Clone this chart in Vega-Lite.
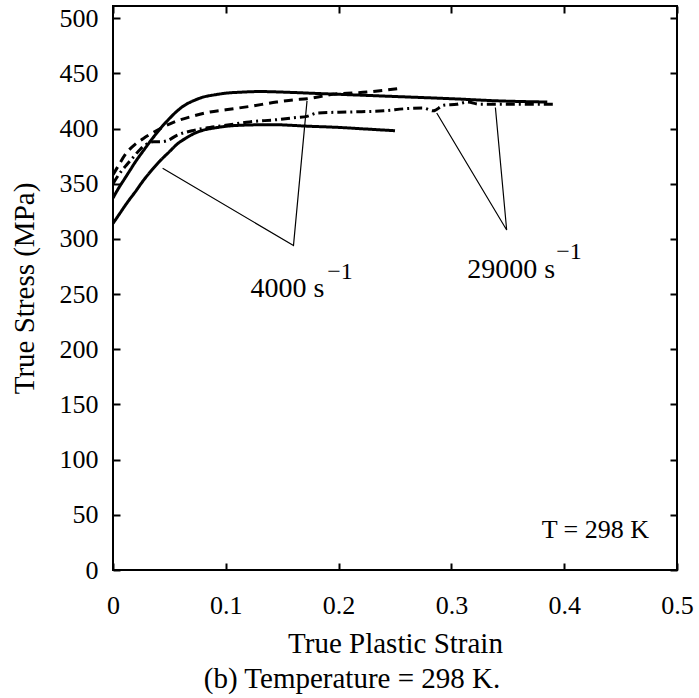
{
  "$schema": "https://vega.github.io/schema/vega-lite/v6.json",
  "width": 564,
  "height": 564,
  "autosize": {"type": "none"},
  "padding": {"left": 113, "top": 6, "right": 22, "bottom": 128},
  "background": "white",
  "config": {
    "font": "Liberation Serif",
    "view": {"stroke": "black", "strokeWidth": 2},
    "axis": {
      "grid": false,
      "domain": false,
      "tickColor": "black",
      "tickWidth": 2,
      "tickSize": -7,
      "labelFlush": false,
      "labelColor": "black",
      "labelFontSize": 26,
      "labelFont": "Liberation Serif",
      "titleColor": "black",
      "titleFontSize": 29,
      "titleFont": "Liberation Serif",
      "titleFontWeight": "normal"
    }
  },
  "title": {
    "text": "(b) Temperature = 298 K.",
    "orient": "bottom",
    "fontSize": 29,
    "fontWeight": "normal",
    "font": "Liberation Serif",
    "color": "black",
    "offset": 7,
    "dx": -43
  },
  "datasets": {
    "curves": [
      {"series": "4000a", "strain": 0, "stress": 337},
      {"series": "4000a", "strain": 0.005, "stress": 346},
      {"series": "4000a", "strain": 0.01, "stress": 354},
      {"series": "4000a", "strain": 0.015, "stress": 362},
      {"series": "4000a", "strain": 0.02, "stress": 370},
      {"series": "4000a", "strain": 0.027, "stress": 380},
      {"series": "4000a", "strain": 0.035, "stress": 391},
      {"series": "4000a", "strain": 0.042, "stress": 400},
      {"series": "4000a", "strain": 0.05, "stress": 409},
      {"series": "4000a", "strain": 0.057, "stress": 416},
      {"series": "4000a", "strain": 0.065, "stress": 422},
      {"series": "4000a", "strain": 0.071, "stress": 425},
      {"series": "4000a", "strain": 0.08, "stress": 428.5},
      {"series": "4000a", "strain": 0.09, "stress": 430.5},
      {"series": "4000a", "strain": 0.1, "stress": 432},
      {"series": "4000a", "strain": 0.115, "stress": 433},
      {"series": "4000a", "strain": 0.13, "stress": 433.5},
      {"series": "4000a", "strain": 0.15, "stress": 433},
      {"series": "4000a", "strain": 0.175, "stress": 432},
      {"series": "4000a", "strain": 0.2, "stress": 431},
      {"series": "4000a", "strain": 0.25, "stress": 429},
      {"series": "4000a", "strain": 0.3, "stress": 427},
      {"series": "4000a", "strain": 0.343, "stress": 425},
      {"series": "4000a", "strain": 0.385, "stress": 424},
      {"series": "4000b", "strain": 0, "stress": 314},
      {"series": "4000b", "strain": 0.006, "stress": 323},
      {"series": "4000b", "strain": 0.012, "stress": 332},
      {"series": "4000b", "strain": 0.02, "stress": 343},
      {"series": "4000b", "strain": 0.027, "stress": 353},
      {"series": "4000b", "strain": 0.035, "stress": 363},
      {"series": "4000b", "strain": 0.042, "stress": 371},
      {"series": "4000b", "strain": 0.05, "stress": 379},
      {"series": "4000b", "strain": 0.057, "stress": 386},
      {"series": "4000b", "strain": 0.065, "stress": 391.5},
      {"series": "4000b", "strain": 0.071, "stress": 395},
      {"series": "4000b", "strain": 0.08, "stress": 398.5},
      {"series": "4000b", "strain": 0.09, "stress": 400.5},
      {"series": "4000b", "strain": 0.1, "stress": 402},
      {"series": "4000b", "strain": 0.115, "stress": 403},
      {"series": "4000b", "strain": 0.14, "stress": 403.5},
      {"series": "4000b", "strain": 0.175, "stress": 402},
      {"series": "4000b", "strain": 0.2, "stress": 401},
      {"series": "4000b", "strain": 0.225, "stress": 399.5},
      {"series": "4000b", "strain": 0.25, "stress": 398},
      {"series": "29000a", "strain": 0, "stress": 358},
      {"series": "29000a", "strain": 0.004, "stress": 365},
      {"series": "29000a", "strain": 0.012, "stress": 378},
      {"series": "29000a", "strain": 0.02, "stress": 386},
      {"series": "29000a", "strain": 0.027, "stress": 391},
      {"series": "29000a", "strain": 0.035, "stress": 396},
      {"series": "29000a", "strain": 0.042, "stress": 400},
      {"series": "29000a", "strain": 0.057, "stress": 407},
      {"series": "29000a", "strain": 0.07, "stress": 411},
      {"series": "29000a", "strain": 0.086, "stress": 415},
      {"series": "29000a", "strain": 0.1, "stress": 417},
      {"series": "29000a", "strain": 0.121, "stress": 420},
      {"series": "29000a", "strain": 0.145, "stress": 424},
      {"series": "29000a", "strain": 0.16, "stress": 426},
      {"series": "29000a", "strain": 0.172, "stress": 427},
      {"series": "29000a", "strain": 0.195, "stress": 431},
      {"series": "29000a", "strain": 0.225, "stress": 433},
      {"series": "29000a", "strain": 0.252, "stress": 436},
      {"series": "29000b", "strain": 0, "stress": 350},
      {"series": "29000b", "strain": 0.005, "stress": 358},
      {"series": "29000b", "strain": 0.012, "stress": 367},
      {"series": "29000b", "strain": 0.018, "stress": 374},
      {"series": "29000b", "strain": 0.024, "stress": 381},
      {"series": "29000b", "strain": 0.03, "stress": 386},
      {"series": "29000b", "strain": 0.036, "stress": 388},
      {"series": "29000b", "strain": 0.042, "stress": 388},
      {"series": "29000b", "strain": 0.048, "stress": 389},
      {"series": "29000b", "strain": 0.057, "stress": 394},
      {"series": "29000b", "strain": 0.07, "stress": 398},
      {"series": "29000b", "strain": 0.086, "stress": 401},
      {"series": "29000b", "strain": 0.1, "stress": 403},
      {"series": "29000b", "strain": 0.121, "stress": 406},
      {"series": "29000b", "strain": 0.145, "stress": 408},
      {"series": "29000b", "strain": 0.163, "stress": 410},
      {"series": "29000b", "strain": 0.172, "stress": 411},
      {"series": "29000b", "strain": 0.181, "stress": 414},
      {"series": "29000b", "strain": 0.21, "stress": 415},
      {"series": "29000b", "strain": 0.24, "stress": 416},
      {"series": "29000b", "strain": 0.26, "stress": 418},
      {"series": "29000b", "strain": 0.275, "stress": 418.5},
      {"series": "29000b", "strain": 0.284, "stress": 416},
      {"series": "29000b", "strain": 0.293, "stress": 421},
      {"series": "29000b", "strain": 0.305, "stress": 422},
      {"series": "29000b", "strain": 0.314, "stress": 424},
      {"series": "29000b", "strain": 0.325, "stress": 422},
      {"series": "29000b", "strain": 0.343, "stress": 422},
      {"series": "29000b", "strain": 0.365, "stress": 422},
      {"series": "29000b", "strain": 0.39, "stress": 422}
    ],
    "leaders": [
      {"group": "L4000", "order": 1, "strain": 0.044, "stress": 364},
      {"group": "L4000", "order": 2, "strain": 0.16, "stress": 294},
      {"group": "L4000", "order": 3, "strain": 0.172, "stress": 425},
      {"group": "L29000", "order": 1, "strain": 0.287, "stress": 414},
      {"group": "L29000", "order": 2, "strain": 0.349, "stress": 308},
      {"group": "L29000", "order": 3, "strain": 0.339, "stress": 419}
    ],
    "labels": [
      {"label": "4000 s", "strain": 0.122, "stress": 247, "size": 28},
      {"label": "−1", "strain": 0.19, "stress": 264, "size": 24},
      {"label": "29000 s", "strain": 0.314, "stress": 265, "size": 28},
      {"label": "−1", "strain": 0.393, "stress": 282, "size": 24},
      {"label": "T = 298 K", "strain": 0.38, "stress": 29, "size": 26}
    ]
  },
  "layer": [
    {
      "data": {"name": "curves"},
      "mark": {"type": "line", "color": "black", "strokeWidth": 3, "clip": true, "interpolate": "monotone"},
      "encoding": {
        "x": {
          "field": "strain", "type": "quantitative",
          "scale": {"domain": [0, 0.5], "nice": false},
          "axis": {"orient": "bottom", "values": [0, 0.1, 0.2, 0.3, 0.4, 0.5], "format": "~g", "labelPadding": 29, "title": "True Plastic Strain", "titlePadding": 11}
        },
        "y": {
          "field": "stress", "type": "quantitative",
          "scale": {"domain": [0, 511], "nice": false},
          "axis": {"orient": "left", "values": [0, 50, 100, 150, 200, 250, 300, 350, 400, 450, 500], "labelPadding": 22, "title": "True Stress (MPa)", "titlePadding": 20}
        },
        "detail": {"field": "series", "type": "nominal"},
        "strokeDash": {
          "field": "series", "type": "nominal",
          "scale": {"domain": ["4000a", "4000b", "29000a", "29000b"], "range": [[1, 0], [1, 0], [9, 6], [9, 4, 2, 4]]},
          "legend": null
        }
      }
    },
    {
      "data": {"name": "leaders"},
      "mark": {"type": "line", "color": "black", "strokeWidth": 1.2},
      "encoding": {
        "x": {"field": "strain", "type": "quantitative", "axis": {"orient": "top", "values": [0, 0.1, 0.2, 0.3, 0.4, 0.5], "labels": false, "title": null}},
        "y": {"field": "stress", "type": "quantitative", "axis": {"orient": "right", "values": [0, 50, 100, 150, 200, 250, 300, 350, 400, 450, 500], "labels": false, "title": null}},
        "detail": {"field": "group", "type": "nominal"},
        "order": {"field": "order", "type": "quantitative"}
      }
    },
    {
      "data": {"name": "labels"},
      "mark": {"type": "text", "align": "left", "baseline": "alphabetic", "color": "black", "font": "Liberation Serif"},
      "encoding": {
        "x": {"field": "strain", "type": "quantitative", "axis": null},
        "y": {"field": "stress", "type": "quantitative", "axis": null},
        "text": {"field": "label", "type": "nominal"},
        "size": {"field": "size", "type": "quantitative", "scale": null}
      }
    }
  ],
  "resolve": {"axis": {"x": "independent", "y": "independent"}}
}
